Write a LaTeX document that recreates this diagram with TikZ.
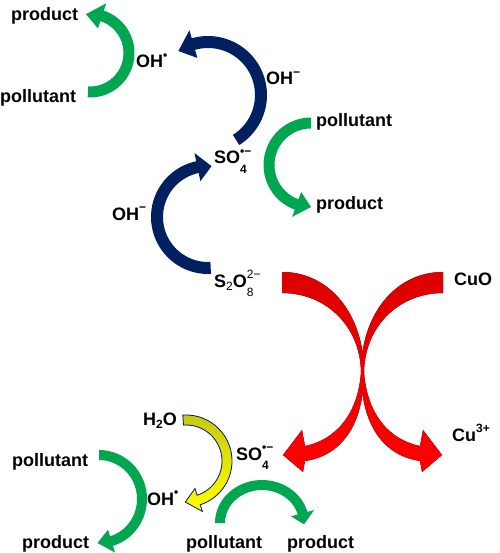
\documentclass[tikz,border=0pt]{standalone}
\usepackage{fontspec}
\setmainfont{Liberation Sans}
\definecolor{leafgreen}{RGB}{0,166,80}
\definecolor{navyblue}{RGB}{0,32,96}
\definecolor{deepred}{RGB}{220,0,0}
\definecolor{oliveyellow}{RGB}{200,200,20}
\tikzset{
    species/.style={anchor=base west, inner sep=0pt, font=\fontsize{18}{20}\selectfont\bfseries},
    greenarrow/.style={fill=leafgreen},
    bluearrow/.style={fill=navyblue},
    redarrow/.style={top color=deepred, middle color=red, bottom color=red},
    yellowarrow/.style={top color=oliveyellow, bottom color=yellow, draw=navyblue, line width=0.8pt}
}
% small raised and lowered indices
\newcommand{\chemsub}[1]{\raisebox{-0.2em}{\fontsize{12}{12}\selectfont #1}}
\newcommand{\chemsup}[1]{\raisebox{0.45em}{\fontsize{12}{12}\selectfont #1}}
\newcommand{\chemboth}[2]{\rlap{\raisebox{-0.55em}{\fontsize{12}{12}\selectfont #1}}\raisebox{0.45em}{\fontsize{12}{12}\selectfont #2}}
% curved band arrow: style, cx, cy, rx, ry, tail angle, head angle, tip angle, width
\newcommand{\bandarrow}[9]{%
  \fill[#1] plot[domain=#6:#7, samples=40] ({#2+(#4+#9/2)*cos(\x)}, {#3+(#5+#9/2)*sin(\x)})
    -- ({#2+(#4+1.2*#9)*cos(#7)}, {#3+(#5+1.2*#9)*sin(#7)})
    -- ({#2+#4*cos(#8)}, {#3+#5*sin(#8)})
    -- ({#2+(#4-1.2*#9)*cos(#7)}, {#3+(#5-1.2*#9)*sin(#7)})
    -- plot[domain=#7:#6, samples=40] ({#2+(#4-#9/2)*cos(\x)}, {#3+(#5-#9/2)*sin(\x)})
    -- cycle;}
\begin{document}
\begin{tikzpicture}[x=1pt, y=-1pt]
\useasboundingbox (0,0) rectangle (499,553);

% upper cycle
\bandarrow{greenarrow}{90}{53}{39}{39}{93}{-72}{-96}{11}
\bandarrow{bluearrow}{208}{95}{53}{53}{58}{-106}{-124}{12}
\bandarrow{greenarrow}{311}{165}{42}{42}{270}{110}{90}{11}
\bandarrow{bluearrow}{208}{217}{51}{51}{87}{258}{274}{12}

% CuO / persulfate exchange
\fill[redarrow] (282,272) .. controls (330,272) and (364,315) .. (364,372)
    .. controls (364,420) and (345,455) .. (305,461) -- (303,472) -- (283,455) -- (302,430) -- (305,446)
    .. controls (335,440) and (358,415) .. (361,372)
    .. controls (360,325) and (325,293) .. (282,293) -- cycle;
\fill[redarrow] (443,272) .. controls (395,272) and (361,315) .. (361,372)
    .. controls (361,420) and (380,455) .. (420,461) -- (422,472) -- (442,455) -- (423,430) -- (420,446)
    .. controls (390,440) and (367,415) .. (364,372)
    .. controls (365,325) and (400,293) .. (443,293) -- cycle;

% lower cycle
\bandarrow{yellowarrow}{186}{461}{41}{41}{-94}{72}{91}{10}
\bandarrow{greenarrow}{99}{499}{43}{44}{-90}{73}{92}{10}
\bandarrow{greenarrow}{262}{523}{42}{38}{180}{345}{362}{10}

% species
\node[species] (prodA) at (11,21) {product};
\node[species] (pollA) at (0,103) {pollutant};
\node[species] (ohradA) at (136,68) {OH\chemsup{•}};
\node[species] (ohminA) at (266,85) {OH\chemsup{−}};
\node[species] (sulfA) at (214,164) {SO\chemboth{4}{•−}};
\node[species] (pollB) at (316,127) {pollutant};
\node[species] (prodB) at (316,209) {product};
\node[species] (ohminB) at (112,220) {OH\chemsup{−}};
\node[species] (persulf) at (214,287) {S\chemsub{\mdseries 2}O\chemboth{\mdseries 8}{\mdseries 2−}};
\node[species] (cuo) at (454,285) {CuO};
\node[species] (cuiii) at (452,441) {Cu\chemsup{3+}};
\node[species] (water) at (143,425) {H\chemsub{2}O};
\node[species] (sulfB) at (236,460) {SO\chemboth{4}{•−}};
\node[species] (pollC) at (12,466) {pollutant};
\node[species] (ohradB) at (147,505) {OH\chemsup{•}};
\node[species] (prodC) at (22,548) {product};
\node[species] (pollD) at (186,548) {pollutant};
\node[species] (prodD) at (287,548) {product};

\end{tikzpicture}
\end{document}
